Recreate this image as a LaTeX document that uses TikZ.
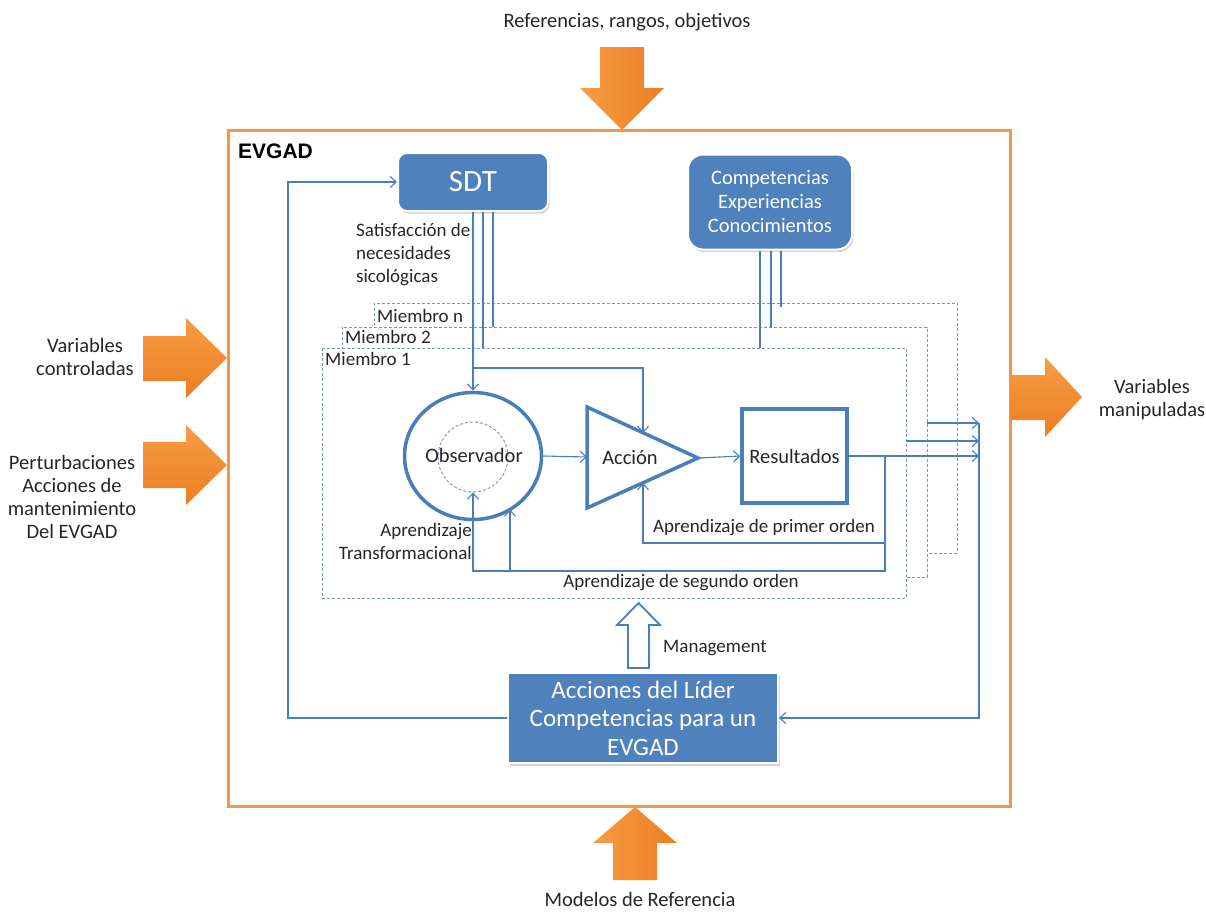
\documentclass[tikz,border=0pt]{standalone}
\usepackage{fontspec}
\setmainfont{Carlito}
\newfontfamily\arialfont{Liberation Sans}
\usetikzlibrary{arrows.meta,shapes.geometric,shadows,calc}
\definecolor{bl}{HTML}{4F81BD}
\definecolor{ln}{HTML}{4A7EBB}
\definecolor{org}{HTML}{F79646}
\definecolor{orgl}{HTML}{F89C44}
\definecolor{orgd}{HTML}{EC7E22}
\definecolor{dsh}{HTML}{7F93B5}
\definecolor{txt}{HTML}{262626}
\tikzset{
  conn/.style={draw=ln, line width=1.1pt},
  arr/.style={conn, -{Straight Barb[length=6pt,width=11pt]}},
  bluebox/.style={fill=bl, draw=white, line width=2pt, text=white, align=center,
    drop shadow={shadow xshift=1.5pt, shadow yshift=-2.5pt, opacity=0.35}},
  member/.style={draw=dsh, dash pattern=on 3pt off 2pt, fill=white, line width=0.8pt},
  lbl/.style={font=\fontsize{19}{23}\selectfont, text=txt, align=center, inner sep=0pt},
  outlbl/.style={font=\fontsize{20.5}{23}\selectfont, text=txt, align=center, inner sep=0pt},
  inlbl/.style={font=\fontsize{20.5}{24}\selectfont, text=txt, align=center, inner sep=0pt},
  vblock/.style={left color=orgl, right color=orgd, draw=none},
  hblock/.style={top color=orgl, bottom color=orgd, draw=none},
  thick blue/.style={draw=ln, line width=3.5pt}
}
\begin{document}
\begin{tikzpicture}[x=1pt,y=-1pt]
\useasboundingbox (0,0) rectangle (1206,911);

% frame
\draw[org, line width=3pt] (228,130) rectangle (1010,806);
\node[anchor=west, font=\arialfont\fontsize{21}{24}\selectfont\bfseries, text=black, inner sep=0pt] (evgad) at (238,151) {EVGAD};

% orange block arrows
\shade[vblock] (600,47) -- (644,47) -- (644,88) -- (664,88) -- (622,130) -- (580,88) -- (600,88) -- cycle;
\shade[vblock] (613,880) -- (657,880) -- (657,843) -- (677,843) -- (635,807) -- (593,843) -- (613,843) -- cycle;
\shade[hblock] (143,336) -- (186,336) -- (186,318) -- (227,358) -- (186,398) -- (186,381) -- (143,381) -- cycle;
\shade[hblock] (143,442) -- (186,442) -- (186,425) -- (227,465) -- (186,505) -- (186,488) -- (143,488) -- cycle;
\shade[hblock] (1010,375) -- (1045,375) -- (1045,357) -- (1082,397) -- (1045,437) -- (1045,420) -- (1010,420) -- cycle;

% outside labels
\node[outlbl] (tref) at (627,22) {Referencias, rangos, objetivos};
\node[outlbl] (tmod) at (640,899) {Modelos de Referencia};
\node[outlbl] (tvc) at (85,357) {Variables\\controladas};
\node[outlbl] (tpert) at (72,497) {Perturbaciones\\Acciones de\\mantenimiento\\Del EVGAD};
\node[outlbl] (tvm) at (1152,400) {Variables\\manipuladas};

% member boxes
\draw[member] (374,303) rectangle (957,553);
\draw[member] (342,327) rectangle (927,577);
\draw[member] (322,348) rectangle (906,598);
\node[lbl, anchor=west] (mn) at (377,316) {Miembro n};
\node[lbl, anchor=west] (m2) at (345,337) {Miembro 2};
\node[lbl, anchor=west] (m1) at (325,359) {Miembro 1};

% main nodes
\node[bluebox, rounded corners=9pt, minimum width=150pt, minimum height=58pt,
  font=\fontsize{31}{33}\selectfont] (sdt) at (473,182) {SDT};
\node[bluebox, rounded corners=15pt, minimum width=164pt, minimum height=95pt,
  font=\fontsize{20.5}{24}\selectfont] (comp) at (770,202) {Competencias\\Experiencias\\Conocimientos};
\node[bluebox, minimum width=270pt, minimum height=90pt,
  font=\fontsize{25}{28.5}\selectfont] (lider) at (643,718) {Acciones del Líder\\Competencias para un\\EVGAD};

\node[ellipse, thick blue, minimum width=137pt, minimum height=127pt, inner sep=0pt] (obs) at (473,456) {};
\node[circle, draw=dsh, dash pattern=on 3pt off 2pt, line width=0.9pt, minimum size=70pt, inner sep=0pt] (obsin) at (473,457) {};
\node[inlbl] (tobs) at (474,455) {Observador};

\coordinate (accA) at (587,407);
\coordinate (accB) at (587,508);
\coordinate (accTip) at (698,458);
\draw[thick blue, line join=miter] (accA) -- (accTip) -- (accB) -- cycle;
\node[inlbl] (tacc) at (630,458) {Acción};
\coordinate (accL) at (587,457);
\coordinate (accTop) at (643,433);
\coordinate (accBot) at (643,483);

\node[rectangle, thick blue, minimum width=105pt, minimum height=94pt, inner sep=0pt, font=\fontsize{20.5}{24}\selectfont, text=txt] (res) at (794.5,456) {Resultados};

% management arrow
\draw[draw=ln, line width=1.8pt, fill=white, line join=miter] (628,668) -- (628,625) -- (617,625) -- (638.5,603) -- (660,625) -- (649,625) -- (649,668) -- cycle;
\node[lbl, anchor=west] (tman) at (663,648) {Management};

% inner labels
\node[lbl, anchor=west, align=left] (tsat) at (356,255) {Satisfacción de\\necesidades\\sicológicas};
\node[lbl, anchor=east, align=right] (ttr) at (472,541) {Aprendizaje\\Transformacional};
\node[lbl] (tpo) at (764,528) {Aprendizaje de primer orden};
\node[lbl] (tso) at (681,583) {Aprendizaje de segundo orden};

% connector end points
\coordinate (s2) at (483,348);
\coordinate (s3) at (493,327);
\coordinate (c1) at (760,348);
\coordinate (c2) at (771,327);
\coordinate (c3) at (781,307);
\coordinate (br) at (473,368);
\coordinate (fb) at (885,456);
\coordinate (o1s) at (927,423);
\coordinate (o1) at (979,423);
\coordinate (o2s) at (906,441);
\coordinate (o2) at (979,441);
\coordinate (o3) at (979,456);
\coordinate (obsb) at (510,509.5);
\coordinate (lp) at (288,182);

% connectors
\draw[arr] (sdt.south) -- (obs.north);
\draw[conn] ([xshift=10pt]sdt.south) -- (s2);
\draw[conn] ([xshift=20pt]sdt.south) -- (s3);
\draw[conn] ([xshift=-10pt]comp.south) -- (c1);
\draw[conn] ([xshift=1pt]comp.south) -- (c2);
\draw[conn] ([xshift=11pt]comp.south) -- (c3);
\draw[arr] (br) -| (accTop);
\draw[arr] (obs.east) -- (accL);
\draw[arr] (accTip) -- (res.west);
\draw[arr] (res.east) -- (o3);
\draw[arr] (o1s) -- (o1);
\draw[arr] (o2s) -- (o2);
\draw[arr] (o1) |- (lider.east);
\draw[arr] (fb) |- (643,543) -- (accBot);
\draw[arr] (fb) |- (473,571) -- (obsin.south);
\draw[arr] (510,571) -- (obsb);
\draw[arr] (lider.west) -| (lp) -- (sdt.west);
\end{tikzpicture}
\end{document}
